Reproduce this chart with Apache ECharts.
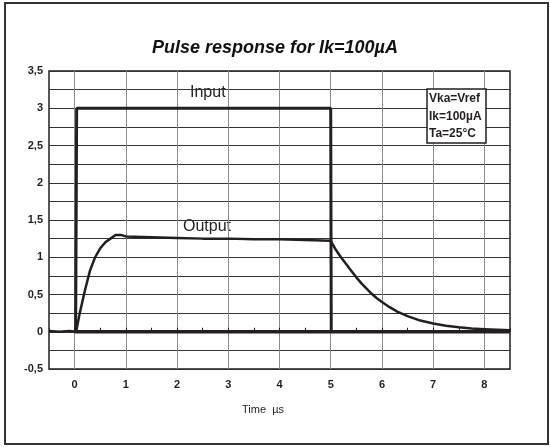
<!DOCTYPE html>
<html>
<head>
<meta charset="utf-8">
<script src="https://cdn.jsdelivr.net/npm/echarts@6/dist/echarts.min.js"></script>
<style>
  html, body { margin: 0; padding: 0; background: #fff; }
  #chart { width: 550px; height: 447px; }
</style>
</head>
<body>
<div id="chart"></div>
<script>
// traces (time in µs, volts)
const inputTrace = [[0.02, 0], [0.04, 3], [5, 3], [5.01, 0]]
const zeroTrace = [[0, 0], [8.5, 0]]
const outputTime = [-0.5, -0.3, -0.1, 0.03, 0.1, 0.2, 0.3, 0.4, 0.5, 0.6, 0.7, 0.8, 0.9, 1.0,
  1.5, 2, 2.5, 3, 3.5, 4, 4.5, 5, 5.05, 5.1, 5.2, 5.3, 5.4, 5.5, 5.6, 5.7, 5.8, 5.9, 6.0,
  6.15, 6.3, 6.5, 6.75, 7.0, 7.25, 7.5, 7.75, 8.0, 8.5]
const outputV = [0.01, 0, 0.01, 0, 0.25, 0.55, 0.82, 1.0, 1.12, 1.2, 1.25, 1.3, 1.3, 1.28,
  1.27, 1.26, 1.25, 1.25, 1.24, 1.24, 1.23, 1.22, 1.16, 1.1, 1.0, 0.91, 0.82, 0.73, 0.65, 0.58, 0.51, 0.45, 0.4,
  0.33, 0.27, 0.21, 0.15, 0.11, 0.08, 0.06, 0.045, 0.035, 0.02]
const notes = ['Vka=Vref', 'Ik=100µA', 'Ta=25°C']

const ink = '#231f20'
const font = '"Liberation Sans", Arial, sans-serif'

const chart = echarts.init(document.getElementById('chart'))

chart.setOption({
  animation: false,
  grid: {
    left: 49, right: 40, top: 71, bottom: 78,
    show: true, borderColor: ink, borderWidth: 1.5
  },
  xAxis: {
    type: 'value',
    min: -0.5, max: 8.5, interval: 0.5,
    axisLine: { show: false },
    axisTick: { show: true, inside: true, length: 4, lineStyle: { color: ink } },
    axisLabel: {
      margin: 10, color: ink, fontWeight: 'bold', fontSize: 11, fontFamily: font,
      formatter: v => Number.isInteger(v) ? String(v) : ''
    },
    splitLine: { show: true, lineStyle: { color: ['rgba(0,0,0,0)', '#8a8a8a'], width: 1 } }
  },
  yAxis: {
    type: 'value',
    min: -0.5, max: 3.5, interval: 0.25,
    axisLine: { show: false },
    axisTick: { show: false },
    axisLabel: {
      margin: 6, color: ink, fontWeight: 'bold', fontSize: 11, fontFamily: font,
      formatter: v => (v * 2) % 1 === 0 ? String(v).replace('.', ',') : ''
    },
    splitLine: { show: true, lineStyle: { color: '#333', width: 1 } }
  },
  series: [
    {
      type: 'line', data: zeroTrace, showSymbol: false,
      lineStyle: { color: ink, width: 3.5 }
    },
    {
      type: 'line', data: inputTrace, showSymbol: false,
      lineStyle: { color: ink, width: 3 }
    },
    {
      type: 'line', data: outputTime.map((t, i) => [t, outputV[i]]),
      showSymbol: false, smooth: false,
      lineStyle: { color: ink, width: 2.5, join: 'round' }
    }
  ],
  graphic: [
    {
      type: 'rect', shape: { x: 5, y: 3, width: 543, height: 441 },
      style: { fill: 'none', stroke: '#333', lineWidth: 2 }, silent: true
    },
    {
      type: 'text', left: 'center', top: 39,
      style: { text: 'Pulse response for Ik=100µA', font: 'italic bold 18px ' + font, fill: '#111' }
    },
    {
      type: 'text', left: 190, top: 85,
      style: { text: 'Input', font: '16px ' + font, fill: ink }
    },
    {
      type: 'text', left: 183, top: 219,
      style: { text: 'Output', font: '16px ' + font, fill: ink }
    },
    {
      type: 'text', left: 242, top: 404,
      style: { text: 'Time  µs', font: '11px ' + font, fill: ink }
    },
    {
      type: 'rect', shape: { x: 427, y: 89, width: 59, height: 54 },
      style: { fill: '#fff', stroke: ink, lineWidth: 1.5 }, z: 10
    },
    {
      type: 'text', left: 429, top: 90, z: 11,
      style: { text: notes.join('\n'), font: 'bold 12px ' + font, lineHeight: 17.5, fill: ink }
    }
  ]
})
</script>
</body>
</html>
